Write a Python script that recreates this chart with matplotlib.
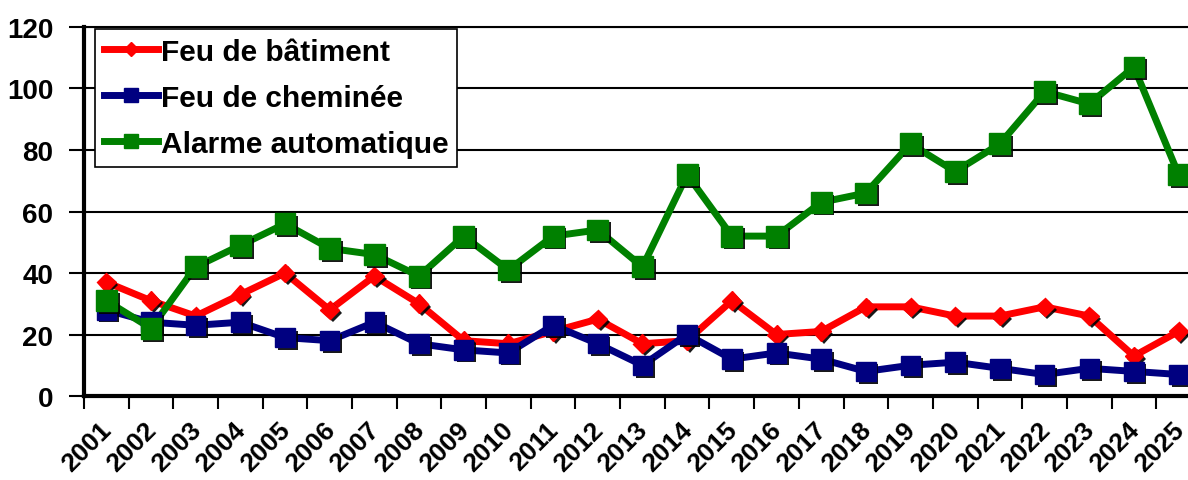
import matplotlib
matplotlib.use("Agg")
import matplotlib.pyplot as plt
import matplotlib.patheffects as pe
import matplotlib.transforms as mtransforms
from matplotlib.lines import Line2D
import numpy as np

plt.rcParams['font.family'] = ['Liberation Sans', 'DejaVu Sans']
plt.rcParams['font.weight'] = 'bold'

# data
years = [str(y) for y in range(2001, 2026)]
feu_batiment = [37, 31, 26, 33, 40, 28, 39, 30, 18, 17, 21, 25, 17, 18, 31, 20,
                21, 29, 29, 26, 26, 29, 26, 13, 21]
feu_cheminee = [28, 24, 23, 24, 19, 18, 24, 17, 15, 14, 23, 17, 10, 20, 12, 14,
                12, 8, 10, 11, 9, 7, 9, 8, 7]
alarme_auto = [31, 22, 42, 49, 56, 48, 46, 39, 52, 41, 52, 54, 42, 72, 52, 52,
               63, 66, 82, 73, 82, 99, 95, 107, 72]

series = [
    ("Feu de bâtiment", feu_batiment, "#ff0000", "D", 9.5),
    ("Feu de cheminée", feu_cheminee, "#000080", "s", 14),
    ("Alarme automatique", alarme_auto, "#008000", "s", 15),
]

fig = plt.figure(figsize=(11.88, 4.81), dpi=100)
ax = fig.add_axes([0.0707, 0.1746, 0.9402, 0.7672])

x = np.arange(len(years))
shadow = [pe.SimplePatchShadow(offset=(2, -2), shadow_rgbFace='black', alpha=0.9), pe.Normal()]

handles = []
for label, vals, col, mk, ms in series:
    ax.plot(x, vals, color=col, lw=5, solid_joinstyle='miter', zorder=3)
    ax.plot(x, vals, ls='none', marker=mk, ms=ms, mfc=col, mec=col, mew=1,
            path_effects=shadow, zorder=4)
    handles.append(Line2D([], [], color=col, lw=5, marker=mk, ms=ms * 0.7,
                          mfc=col, mec=col, label=label))

ax.set_xlim(-0.5, len(years) - 0.5)
ax.set_ylim(0, 120)
ax.set_yticks(range(0, 121, 20))
ax.yaxis.grid(True, color='black', lw=1.5)
ax.set_axisbelow(True)

ax.set_xticks(x)
ax.set_xticklabels(years, rotation=45, ha='right', va='top', rotation_mode='anchor')
ax.set_xticks(np.arange(-0.5, len(years)), minor=True)
ax.tick_params(axis='x', which='major', length=0, labelsize=19, pad=15)
ax.tick_params(axis='x', which='minor', length=9, width=1.5, direction='out')
ax.tick_params(axis='y', length=11, width=1.5, labelsize=20, pad=11)

# nudge the slanted year labels a little to the left
shift = mtransforms.ScaledTranslation(-7 / 100, 0, fig.dpi_scale_trans)
for lbl in ax.get_xticklabels():
    lbl.set_transform(lbl.get_transform() + shift)

for side in ['left', 'bottom']:
    ax.spines[side].set_linewidth(3)
ax.spines['top'].set_linewidth(1.5)
ax.spines['right'].set_visible(False)

leg = ax.legend(handles=handles, loc='upper left', bbox_to_anchor=(0.0098, 0.995),
                borderaxespad=0, fancybox=False, framealpha=1, edgecolor='black',
                prop={'size': 21.5, 'weight': 'bold'}, handlelength=1.8,
                handletextpad=0.1, labelspacing=0.6, borderpad=0.3)
leg.get_frame().set_linewidth(1.2)

fig.savefig("out.png", dpi=100)
